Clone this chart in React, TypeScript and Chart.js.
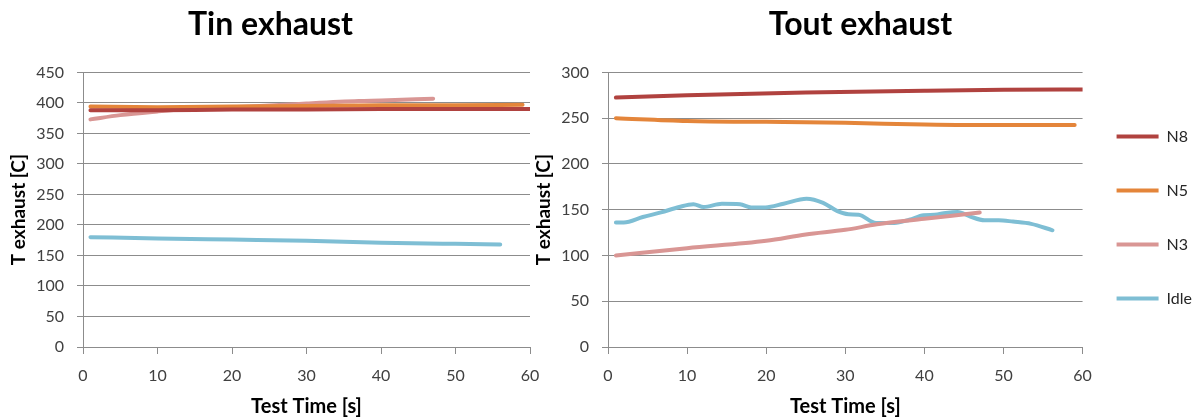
import React, { useEffect, useRef } from 'react';
import { Chart, registerables } from 'chart.js';

Chart.register(...registerables);

const FONT = 'Lato, "Liberation Sans", sans-serif';

const seriesNames = ['N8', 'N5', 'N3', 'Idle'];
const seriesColors = ['#B0423F', '#E4853A', '#D99694', '#7EBED4'];

const xTicksMax = 60;
const xStep = 10;
const tinYMax = 450;
const toutYMax = 300;
const yStep = 50;

// Tin exhaust
const tinN8T = [1, 10, 20, 30, 40, 50, 60];
const tinN8V = [388, 388, 389, 389, 390, 390, 390];
const tinN5T = [1, 10, 20, 30, 40, 50, 59];
const tinN5V = [394, 393, 394, 395, 396, 396, 397];
const tinN3T = [1, 5, 10, 13, 20, 27, 30, 37, 40, 47];
const tinN3V = [373, 380, 386, 389, 393, 397, 399, 403, 404, 407];
const tinIdleT = [1, 10, 20, 30, 40, 50, 56];
const tinIdleV = [180, 178, 176, 174, 171, 169, 168];

// Tout exhaust
const toutN8T = [1, 10, 25, 40, 50, 60];
const toutN8V = [272.5, 275, 278, 280, 281, 281.3];
const toutN5T = [1, 10, 20, 25, 30, 40, 45, 50, 59];
const toutN5V = [250, 247, 246, 245.6, 245, 243, 242.5, 242.5, 242.6];
const toutN3T = [1, 10, 20, 25, 30, 34, 40, 47];
const toutN3V = [100, 108, 116, 123, 128, 134, 140, 147];
const toutIdleT = [1, 2, 4.4, 6.7, 9, 10.8, 12.1, 14.4, 16.7, 18.1, 19.9, 22.2, 25.1, 27.2, 29, 30.4, 31.7, 33.9, 36.2, 38.1, 39.9, 41.3, 42.7, 44.2, 45.8, 47.6, 49.4, 51.2, 53.5, 56.2];
const toutIdleV = [136, 136, 142, 147, 153, 156, 153, 156.5, 156, 152.5, 152.5, 156.5, 162, 157.5, 148.5, 145, 144.5, 135.5, 135.5, 139, 144, 144.5, 146.5, 147.5, 142.5, 138.5, 138.5, 137, 134.5, 127.5];

const pts = (t: number[], v: number[]) => t.map((x, i) => ({ x, y: v[i] }));

const makeDatasets = (series: [number[], number[]][]) =>
  series.map(([t, v], i) => ({
    label: seriesNames[i],
    data: pts(t, v),
    borderColor: seriesColors[i],
    backgroundColor: seriesColors[i],
    borderWidth: 4,
    pointRadius: 0,
    cubicInterpolationMode: 'monotone' as const,
    borderCapStyle: 'round' as const,
    borderJoinStyle: 'round' as const,
    fill: false,
  }));

const GRID = '#8c8c8c';

const shiftPlugin = (legendDx: number, legendDy: number, titleDx: number) => ({
  id: 'shiftBoxes',
  afterLayout(chart: any) {
    const l = chart.legend;
    if (l && l.options && l.options.display) {
      l.left += legendDx;
      l.right += legendDx;
      l.top += legendDy;
      l.bottom += legendDy;
    }
    const t = chart.titleBlock;
    if (t) {
      t.left += titleDx;
      t.right += titleDx;
    }
  },
});

const makeOptions = (
  title: string,
  yMax: number,
  showLegend: boolean,
  padRight: number,
  axisPadRight: number
) => ({
  responsive: false,
  animation: false as const,
  devicePixelRatio: 1,
  layout: { padding: { left: 0, top: 0, bottom: 0, right: padRight } },
  plugins: {
    title: {
      display: true,
      text: title,
      color: '#000',
      font: { family: FONT, size: 32, weight: 'bold' as const },
      padding: { top: 5, bottom: 29 },
    },
    legend: {
      display: showLegend,
      position: 'right' as const,
      labels: {
        usePointStyle: true,
        pointStyle: 'line',
        pointStyleWidth: 42,
        padding: 38,
        color: '#262626',
        font: { family: FONT, size: 16 },
      },
    },
    tooltip: { enabled: false },
  },
  scales: {
    x: {
      type: 'linear' as const,
      min: 0,
      max: xTicksMax,
      ticks: {
        stepSize: xStep,
        color: '#404040',
        font: { family: FONT, size: 16 },
        padding: 12,
      },
      grid: {
        drawOnChartArea: false,
        drawTicks: true,
        tickLength: 7,
        color: GRID,
      },
      border: { display: true, color: GRID, width: 1 },
      title: {
        display: true,
        text: 'Test Time [s]',
        color: '#000',
        font: { family: FONT, size: 20, weight: 'bold' as const },
        padding: { top: 0, bottom: 0 },
      },
      afterFit: (s: any) => {
        s.height = 72;
        s.paddingRight = axisPadRight;
        s.paddingLeft = 0;
      },
    },
    y: {
      type: 'linear' as const,
      min: 0,
      max: yMax,
      ticks: {
        stepSize: yStep,
        color: '#404040',
        font: { family: FONT, size: 16 },
        padding: 13,
      },
      grid: {
        drawOnChartArea: true,
        drawTicks: true,
        tickLength: 6,
        color: GRID,
      },
      border: { display: true, color: GRID, width: 1 },
      title: {
        display: true,
        text: 'T exhaust [C]',
        color: '#000',
        font: { family: FONT, size: 19, weight: 'bold' as const },
        padding: { top: 7, bottom: 0 },
      },
      afterFit: (s: any) => {
        s.width = 83;
      },
    },
  },
});

export default function App() {
  const leftRef = useRef<HTMLCanvasElement>(null);
  const rightRef = useRef<HTMLCanvasElement>(null);

  useEffect(() => {
    document.body.style.margin = '0';
    const left = new Chart(leftRef.current!, {
      type: 'line',
      data: {
        datasets: makeDatasets([
          [tinN8T, tinN8V],
          [tinN5T, tinN5V],
          [tinN3T, tinN3V],
          [tinIdleT, tinIdleV],
        ]),
      },
      options: makeOptions('Tin exhaust', tinYMax, false, 0, 11) as any,
    });
    const right = new Chart(rightRef.current!, {
      type: 'line',
      data: {
        datasets: makeDatasets([
          [toutN8T, toutN8V],
          [toutN5T, toutN5V],
          [toutN3T, toutN3V],
          [toutIdleT, toutIdleV],
        ]),
      },
      options: makeOptions('Tout exhaust', toutYMax, true, -9, 0) as any,
      plugins: [shiftPlugin(-4, 8, -5)],
    });
    return () => {
      left.destroy();
      right.destroy();
    };
  }, []);

  return (
    <div style={{ position: 'relative', width: 1197, height: 419, background: '#fff' }}>
      <canvas
        ref={leftRef}
        width={541}
        height={419}
        style={{ position: 'absolute', left: 0, top: 0, width: 541, height: 419 }}
      />
      <canvas
        ref={rightRef}
        width={672}
        height={419}
        style={{ position: 'absolute', left: 525, top: 0, width: 672, height: 419 }}
      />
    </div>
  );
}
